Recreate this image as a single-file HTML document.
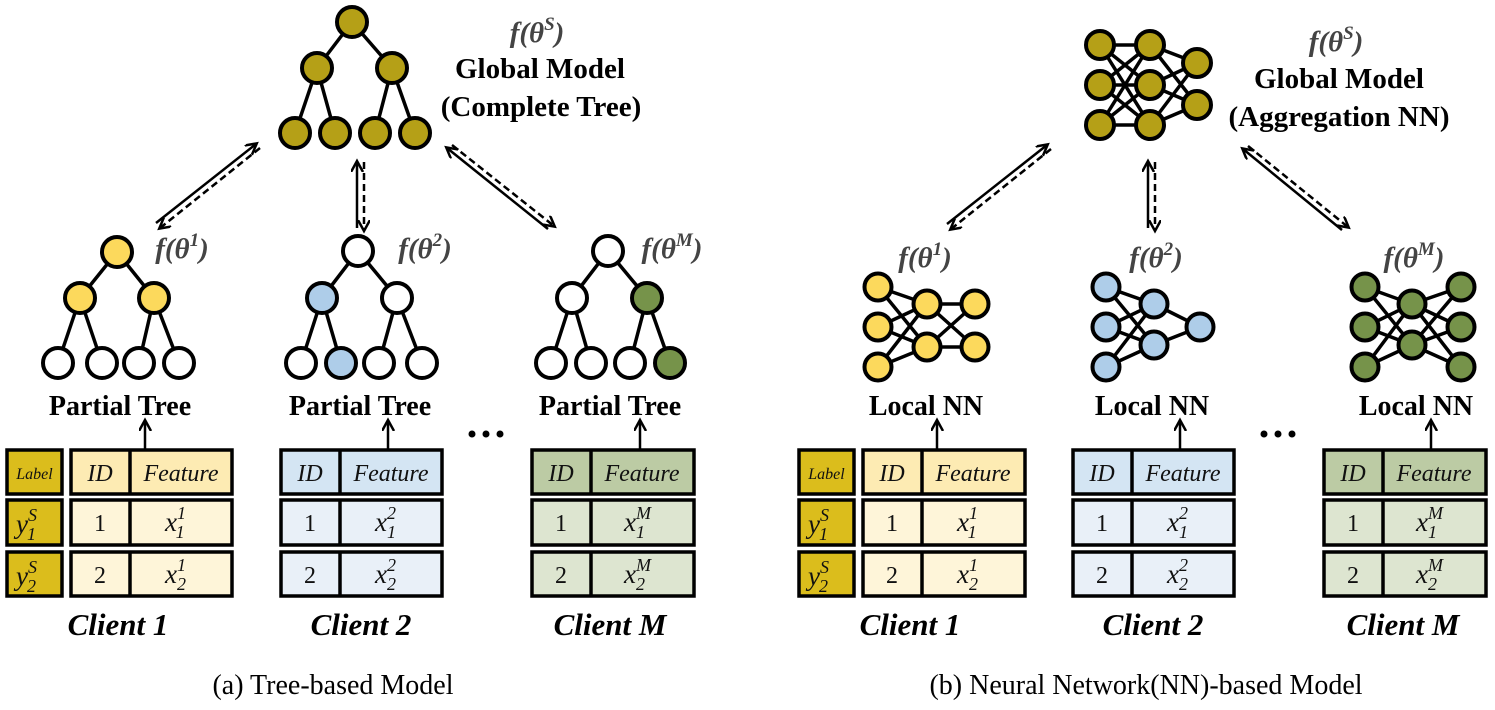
<!DOCTYPE html>
<html><head><meta charset="utf-8"><style>
html,body{margin:0;padding:0;background:#fff;}
svg{display:block;font-family:"Liberation Serif","Times New Roman","DejaVu Serif",serif;}
svg text{font-family:"Liberation Serif","Times New Roman","DejaVu Serif",serif;}
.n{stroke:#000;stroke-width:4;}
.e{stroke:#000;stroke-width:3.5;fill:none;}
.b{font-weight:bold;}
.f{font-weight:bold;font-style:italic;fill:#444;font-size:29px;}
.it{font-style:italic;}
.box{stroke:#000;stroke-width:3.5;}
</style></head><body>
<svg width="1495" height="710" viewBox="0 0 1495 710" xmlns="http://www.w3.org/2000/svg" font-family="Liberation Serif, Times New Roman, DejaVu Serif, serif">
<defs>
<marker id="ah" markerWidth="14" markerHeight="14" refX="10" refY="6" orient="auto" markerUnits="userSpaceOnUse">
<path d="M0,0 L11,6 L0,12" fill="none" stroke="#000" stroke-width="2.5"/>
</marker>
</defs>

<!-- ===== LEFT: Global tree ===== -->
<g class="e">
<line x1="352" y1="22" x2="317" y2="68"/><line x1="352" y1="22" x2="392" y2="68"/>
<line x1="317" y1="68" x2="295" y2="133"/><line x1="317" y1="68" x2="335" y2="133"/>
<line x1="392" y1="68" x2="375" y2="133"/><line x1="392" y1="68" x2="415" y2="133"/>
</g>
<g class="n" fill="#b5a017">
<circle cx="352" cy="22" r="15"/><circle cx="317" cy="68" r="15"/><circle cx="392" cy="68" r="15"/>
<circle cx="295" cy="133" r="15"/><circle cx="335" cy="133" r="15"/><circle cx="375" cy="133" r="15"/><circle cx="415" cy="133" r="15"/>
</g>
<text class="f" x="537" y="42" text-anchor="middle">f(θ<tspan font-size="19" dy="-12">S</tspan><tspan dy="12">)</tspan></text>
<text class="b" x="540" y="78" text-anchor="middle" font-size="29">Global Model</text>
<text class="b" x="541" y="116" text-anchor="middle" font-size="29">(Complete Tree)</text>

<!-- arrows left panel -->
<g stroke="#000" stroke-width="2.5" fill="none">
<line x1="156" y1="223" x2="256" y2="144" marker-end="url(#ah)"/>
<line x1="260" y1="148" x2="160" y2="228" stroke-dasharray="7,4" marker-end="url(#ah)"/>
<line x1="357" y1="228" x2="357" y2="162" marker-end="url(#ah)"/>
<line x1="364" y1="162" x2="364" y2="230" stroke-dasharray="7,4" marker-end="url(#ah)"/>
<line x1="548" y1="229" x2="447" y2="148" marker-end="url(#ah)"/>
<line x1="452" y1="145" x2="554" y2="226" stroke-dasharray="7,4" marker-end="url(#ah)"/>
</g>

<!-- client trees -->
<g class="e">
<line x1="117" y1="252" x2="80" y2="298"/><line x1="117" y1="252" x2="154" y2="298"/>
<line x1="80" y1="298" x2="58" y2="363"/><line x1="80" y1="298" x2="102" y2="363"/>
<line x1="154" y1="298" x2="139" y2="363"/><line x1="154" y1="298" x2="179" y2="363"/>
<line x1="358" y1="251" x2="322" y2="298"/><line x1="358" y1="251" x2="397" y2="298"/>
<line x1="322" y1="298" x2="301" y2="363"/><line x1="322" y1="298" x2="341" y2="363"/>
<line x1="397" y1="298" x2="379" y2="363"/><line x1="397" y1="298" x2="422" y2="363"/>
<line x1="608" y1="251" x2="572" y2="298"/><line x1="608" y1="251" x2="647" y2="298"/>
<line x1="572" y1="298" x2="551" y2="363"/><line x1="572" y1="298" x2="591" y2="363"/>
<line x1="647" y1="298" x2="630" y2="363"/><line x1="647" y1="298" x2="670" y2="363"/>
</g>
<g class="n">
<circle cx="117" cy="252" r="15" fill="#fcd95c"/><circle cx="80" cy="298" r="15" fill="#fcd95c"/><circle cx="154" cy="298" r="15" fill="#fcd95c"/>
<circle cx="58" cy="363" r="15" fill="#fff"/><circle cx="102" cy="363" r="15" fill="#fff"/><circle cx="139" cy="363" r="15" fill="#fff"/><circle cx="179" cy="363" r="15" fill="#fff"/>
<circle cx="358" cy="251" r="15" fill="#fff"/><circle cx="322" cy="298" r="15" fill="#aecde9"/><circle cx="397" cy="298" r="15" fill="#fff"/>
<circle cx="301" cy="363" r="15" fill="#fff"/><circle cx="341" cy="363" r="15" fill="#aecde9"/><circle cx="379" cy="363" r="15" fill="#fff"/><circle cx="422" cy="363" r="15" fill="#fff"/>
<circle cx="608" cy="251" r="15" fill="#fff"/><circle cx="572" cy="298" r="15" fill="#fff"/><circle cx="647" cy="298" r="15" fill="#76934a"/>
<circle cx="551" cy="363" r="15" fill="#fff"/><circle cx="591" cy="363" r="15" fill="#fff"/><circle cx="630" cy="363" r="15" fill="#fff"/><circle cx="670" cy="363" r="15" fill="#76934a"/>
</g>
<text class="f" x="182" y="258" text-anchor="middle">f(θ<tspan font-size="19" dy="-12">1</tspan><tspan dy="12">)</tspan></text>
<text class="f" x="425" y="258" text-anchor="middle">f(θ<tspan font-size="19" dy="-12">2</tspan><tspan dy="12">)</tspan></text>
<text class="f" x="672" y="258" text-anchor="middle">f(θ<tspan font-size="19" dy="-12">M</tspan><tspan dy="12">)</tspan></text>
<g class="b" font-size="28" text-anchor="middle">
<text x="120" y="415">Partial Tree</text><text x="360" y="415">Partial Tree</text><text x="610" y="415">Partial Tree</text>
</g>

<!-- ===== RIGHT: Global NN ===== -->
<g class="e" stroke-width="3">
<line x1="1100" y1="45" x2="1150" y2="45"/><line x1="1100" y1="45" x2="1150" y2="85"/><line x1="1100" y1="45" x2="1150" y2="125"/>
<line x1="1100" y1="85" x2="1150" y2="45"/><line x1="1100" y1="85" x2="1150" y2="85"/><line x1="1100" y1="85" x2="1150" y2="125"/>
<line x1="1100" y1="125" x2="1150" y2="45"/><line x1="1100" y1="125" x2="1150" y2="85"/><line x1="1100" y1="125" x2="1150" y2="125"/>
<line x1="1150" y1="45" x2="1197" y2="63"/><line x1="1150" y1="45" x2="1197" y2="105"/>
<line x1="1150" y1="85" x2="1197" y2="63"/><line x1="1150" y1="85" x2="1197" y2="105"/>
<line x1="1150" y1="125" x2="1197" y2="63"/><line x1="1150" y1="125" x2="1197" y2="105"/>
</g>
<g class="n" fill="#b5a017">
<circle cx="1100" cy="45" r="14"/><circle cx="1100" cy="85" r="14"/><circle cx="1100" cy="125" r="14"/>
<circle cx="1150" cy="45" r="14"/><circle cx="1150" cy="85" r="14"/><circle cx="1150" cy="125" r="14"/>
<circle cx="1197" cy="63" r="14"/><circle cx="1197" cy="105" r="14"/>
</g>
<text class="f" x="1336" y="51" text-anchor="middle">f(θ<tspan font-size="19" dy="-12">S</tspan><tspan dy="12">)</tspan></text>
<text class="b" x="1339" y="88" text-anchor="middle" font-size="29">Global Model</text>
<text class="b" x="1339" y="126" text-anchor="middle" font-size="29">(Aggregation NN)</text>

<g stroke="#000" stroke-width="2.5" fill="none">
<line x1="947" y1="224" x2="1047" y2="145" marker-end="url(#ah)"/>
<line x1="1051" y1="149" x2="951" y2="229" stroke-dasharray="7,4" marker-end="url(#ah)"/>
<line x1="1148" y1="228" x2="1148" y2="162" marker-end="url(#ah)"/>
<line x1="1155" y1="162" x2="1155" y2="230" stroke-dasharray="7,4" marker-end="url(#ah)"/>
<line x1="1342" y1="230" x2="1243" y2="149" marker-end="url(#ah)"/>
<line x1="1248" y1="146" x2="1348" y2="227" stroke-dasharray="7,4" marker-end="url(#ah)"/>
</g>

<!-- local NNs -->
<g class="e" stroke-width="3">
<line x1="878" y1="287" x2="927" y2="304"/><line x1="878" y1="287" x2="927" y2="347"/>
<line x1="878" y1="327" x2="927" y2="304"/><line x1="878" y1="327" x2="927" y2="347"/>
<line x1="878" y1="367" x2="927" y2="304"/><line x1="878" y1="367" x2="927" y2="347"/>
<line x1="927" y1="304" x2="975" y2="304"/><line x1="927" y1="304" x2="975" y2="347"/>
<line x1="927" y1="347" x2="975" y2="304"/><line x1="927" y1="347" x2="975" y2="347"/>
<line x1="1106" y1="287" x2="1154" y2="304"/><line x1="1106" y1="287" x2="1154" y2="345"/>
<line x1="1106" y1="327" x2="1154" y2="304"/><line x1="1106" y1="327" x2="1154" y2="345"/>
<line x1="1106" y1="367" x2="1154" y2="304"/><line x1="1106" y1="367" x2="1154" y2="345"/>
<line x1="1154" y1="304" x2="1200" y2="327"/><line x1="1154" y1="345" x2="1200" y2="327"/>
<line x1="1365" y1="287" x2="1412" y2="304"/><line x1="1365" y1="287" x2="1412" y2="345"/>
<line x1="1365" y1="327" x2="1412" y2="304"/><line x1="1365" y1="327" x2="1412" y2="345"/>
<line x1="1365" y1="367" x2="1412" y2="304"/><line x1="1365" y1="367" x2="1412" y2="345"/>
<line x1="1412" y1="304" x2="1461" y2="287"/><line x1="1412" y1="304" x2="1461" y2="327"/><line x1="1412" y1="304" x2="1461" y2="367"/>
<line x1="1412" y1="345" x2="1461" y2="287"/><line x1="1412" y1="345" x2="1461" y2="327"/><line x1="1412" y1="345" x2="1461" y2="367"/>
</g>
<g class="n">
<g fill="#fcd95c"><circle cx="878" cy="287" r="13.5"/><circle cx="878" cy="327" r="13.5"/><circle cx="878" cy="367" r="13.5"/>
<circle cx="927" cy="304" r="13.5"/><circle cx="927" cy="347" r="13.5"/><circle cx="975" cy="304" r="13.5"/><circle cx="975" cy="347" r="13.5"/></g>
<g fill="#aecde9"><circle cx="1106" cy="287" r="13.5"/><circle cx="1106" cy="327" r="13.5"/><circle cx="1106" cy="367" r="13.5"/>
<circle cx="1154" cy="304" r="13.5"/><circle cx="1154" cy="345" r="13.5"/><circle cx="1200" cy="327" r="13.5"/></g>
<g fill="#76934a"><circle cx="1365" cy="287" r="13.5"/><circle cx="1365" cy="327" r="13.5"/><circle cx="1365" cy="367" r="13.5"/>
<circle cx="1412" cy="304" r="13.5"/><circle cx="1412" cy="345" r="13.5"/>
<circle cx="1461" cy="287" r="13.5"/><circle cx="1461" cy="327" r="13.5"/><circle cx="1461" cy="367" r="13.5"/></g>
</g>
<text class="f" x="925" y="267" text-anchor="middle">f(θ<tspan font-size="19" dy="-12">1</tspan><tspan dy="12">)</tspan></text>
<text class="f" x="1156" y="267" text-anchor="middle">f(θ<tspan font-size="19" dy="-12">2</tspan><tspan dy="12">)</tspan></text>
<text class="f" x="1414" y="267" text-anchor="middle">f(θ<tspan font-size="19" dy="-12">M</tspan><tspan dy="12">)</tspan></text>
<g class="b" font-size="28" text-anchor="middle">
<text x="926" y="415">Local NN</text><text x="1152" y="415">Local NN</text><text x="1416" y="415">Local NN</text>
</g>

<!-- ===== up arrows ===== -->
<g stroke="#000" stroke-width="2.5" fill="none">
<line x1="145" y1="449" x2="145" y2="421" marker-end="url(#ah)"/>
<line x1="388" y1="449" x2="388" y2="421" marker-end="url(#ah)"/>
<line x1="640" y1="449" x2="640" y2="421" marker-end="url(#ah)"/>
<line x1="937" y1="449" x2="937" y2="421" marker-end="url(#ah)"/>
<line x1="1180" y1="449" x2="1180" y2="421" marker-end="url(#ah)"/>
<line x1="1431" y1="449" x2="1431" y2="421" marker-end="url(#ah)"/>
</g>
<g fill="#000">
<circle cx="472" cy="434" r="3.5"/><circle cx="486" cy="434" r="3.5"/><circle cx="500" cy="434" r="3.5"/>
<circle cx="1264" cy="434" r="3.5"/><circle cx="1278" cy="434" r="3.5"/><circle cx="1292" cy="434" r="3.5"/>
</g>

<!-- ===== tables ===== -->
<g class="box">
<rect x="7" y="450" width="55" height="44" fill="#dbbd1c"/>
<rect x="7" y="500" width="55" height="45" fill="#dbbd1c"/>
<rect x="7" y="552" width="55" height="44" fill="#dbbd1c"/>
<rect x="71" y="450" width="161" height="44" fill="#fdebb3"/><line x1="130" y1="450" x2="130" y2="494"/>
<rect x="71" y="500" width="161" height="45" fill="#fef5d9"/><line x1="130" y1="500" x2="130" y2="545"/>
<rect x="71" y="552" width="161" height="44" fill="#fef5d9"/><line x1="130" y1="552" x2="130" y2="596"/>
<rect x="281" y="450" width="161" height="44" fill="#d4e5f3"/><line x1="340" y1="450" x2="340" y2="494"/>
<rect x="281" y="500" width="161" height="45" fill="#e9f0f8"/><line x1="340" y1="500" x2="340" y2="545"/>
<rect x="281" y="552" width="161" height="44" fill="#e9f0f8"/><line x1="340" y1="552" x2="340" y2="596"/>
<rect x="532" y="450" width="162" height="44" fill="#bccba4"/><line x1="591" y1="450" x2="591" y2="494"/>
<rect x="532" y="500" width="162" height="45" fill="#dde5d0"/><line x1="591" y1="500" x2="591" y2="545"/>
<rect x="532" y="552" width="162" height="44" fill="#dde5d0"/><line x1="591" y1="552" x2="591" y2="596"/>
<rect x="799" y="450" width="55" height="44" fill="#dbbd1c"/>
<rect x="799" y="500" width="55" height="45" fill="#dbbd1c"/>
<rect x="799" y="552" width="55" height="44" fill="#dbbd1c"/>
<rect x="863" y="450" width="162" height="44" fill="#fdebb3"/><line x1="922" y1="450" x2="922" y2="494"/>
<rect x="863" y="500" width="162" height="45" fill="#fef5d9"/><line x1="922" y1="500" x2="922" y2="545"/>
<rect x="863" y="552" width="162" height="44" fill="#fef5d9"/><line x1="922" y1="552" x2="922" y2="596"/>
<rect x="1073" y="450" width="161" height="44" fill="#d4e5f3"/><line x1="1132" y1="450" x2="1132" y2="494"/>
<rect x="1073" y="500" width="161" height="45" fill="#e9f0f8"/><line x1="1132" y1="500" x2="1132" y2="545"/>
<rect x="1073" y="552" width="161" height="44" fill="#e9f0f8"/><line x1="1132" y1="552" x2="1132" y2="596"/>
<rect x="1324" y="450" width="162" height="44" fill="#bccba4"/><line x1="1383" y1="450" x2="1383" y2="494"/>
<rect x="1324" y="500" width="162" height="45" fill="#dde5d0"/><line x1="1383" y1="500" x2="1383" y2="545"/>
<rect x="1324" y="552" width="162" height="44" fill="#dde5d0"/><line x1="1383" y1="552" x2="1383" y2="596"/>
</g>

<g class="it" font-size="24" text-anchor="middle" fill="#111">
<text x="34.5" y="479" font-size="16">Label</text>
<text x="100" y="481">ID</text><text x="181" y="481">Feature</text>
<text x="310" y="481">ID</text><text x="391" y="481">Feature</text>
<text x="561" y="481">ID</text><text x="642" y="481">Feature</text>
<text x="826.5" y="479" font-size="16">Label</text>
<text x="892" y="481">ID</text><text x="973" y="481">Feature</text>
<text x="1102" y="481">ID</text><text x="1183" y="481">Feature</text>
<text x="1353" y="481">ID</text><text x="1434" y="481">Feature</text>
</g>

<g font-size="24" text-anchor="middle" fill="#111">
<text x="100" y="531">1</text><text x="100" y="583">2</text>
<text x="310" y="531">1</text><text x="310" y="583">2</text>
<text x="561" y="531">1</text><text x="561" y="583">2</text>
<text x="892" y="531">1</text><text x="892" y="583">2</text>
<text x="1102" y="531">1</text><text x="1102" y="583">2</text>
<text x="1353" y="531">1</text><text x="1353" y="583">2</text>
</g>

<g class="it" font-size="27" fill="#111">
<text x="16" y="533">y<tspan font-size="18" dy="-12">S</tspan><tspan font-size="18" dx="-10" dy="19">1</tspan></text>
<text x="16" y="585">y<tspan font-size="18" dy="-12">S</tspan><tspan font-size="18" dx="-10" dy="19">2</tspan></text>
<text x="808" y="533">y<tspan font-size="18" dy="-12">S</tspan><tspan font-size="18" dx="-10" dy="19">1</tspan></text>
<text x="808" y="585">y<tspan font-size="18" dy="-12">S</tspan><tspan font-size="18" dx="-10" dy="19">2</tspan></text>
<text x="165" y="531">x<tspan font-size="18" dy="-12">1</tspan><tspan font-size="18" dx="-9" dy="19">1</tspan></text>
<text x="165" y="583">x<tspan font-size="18" dy="-12">1</tspan><tspan font-size="18" dx="-9" dy="19">2</tspan></text>
<text x="375" y="531">x<tspan font-size="18" dy="-12">2</tspan><tspan font-size="18" dx="-9" dy="19">1</tspan></text>
<text x="375" y="583">x<tspan font-size="18" dy="-12">2</tspan><tspan font-size="18" dx="-9" dy="19">2</tspan></text>
<text x="624" y="531">x<tspan font-size="18" dy="-12">M</tspan><tspan font-size="18" dx="-15" dy="19">1</tspan></text>
<text x="624" y="583">x<tspan font-size="18" dy="-12">M</tspan><tspan font-size="18" dx="-15" dy="19">2</tspan></text>
<text x="957" y="531">x<tspan font-size="18" dy="-12">1</tspan><tspan font-size="18" dx="-9" dy="19">1</tspan></text>
<text x="957" y="583">x<tspan font-size="18" dy="-12">1</tspan><tspan font-size="18" dx="-9" dy="19">2</tspan></text>
<text x="1167" y="531">x<tspan font-size="18" dy="-12">2</tspan><tspan font-size="18" dx="-9" dy="19">1</tspan></text>
<text x="1167" y="583">x<tspan font-size="18" dy="-12">2</tspan><tspan font-size="18" dx="-9" dy="19">2</tspan></text>
<text x="1416" y="531">x<tspan font-size="18" dy="-12">M</tspan><tspan font-size="18" dx="-15" dy="19">1</tspan></text>
<text x="1416" y="583">x<tspan font-size="18" dy="-12">M</tspan><tspan font-size="18" dx="-15" dy="19">2</tspan></text>
</g>

<g class="b" font-style="italic" font-size="31" text-anchor="middle" fill="#000">
<text x="118" y="635">Client 1</text><text x="361" y="635">Client 2</text><text x="610" y="635">Client M</text>
<text x="910" y="635">Client 1</text><text x="1153" y="635">Client 2</text><text x="1403" y="635">Client M</text>
</g>

<g font-size="28" text-anchor="middle" fill="#000">
<text x="333" y="694">(a) Tree-based Model</text>
<text x="1146" y="694">(b) Neural Network(NN)-based Model</text>
</g>
</svg>
</body></html>
